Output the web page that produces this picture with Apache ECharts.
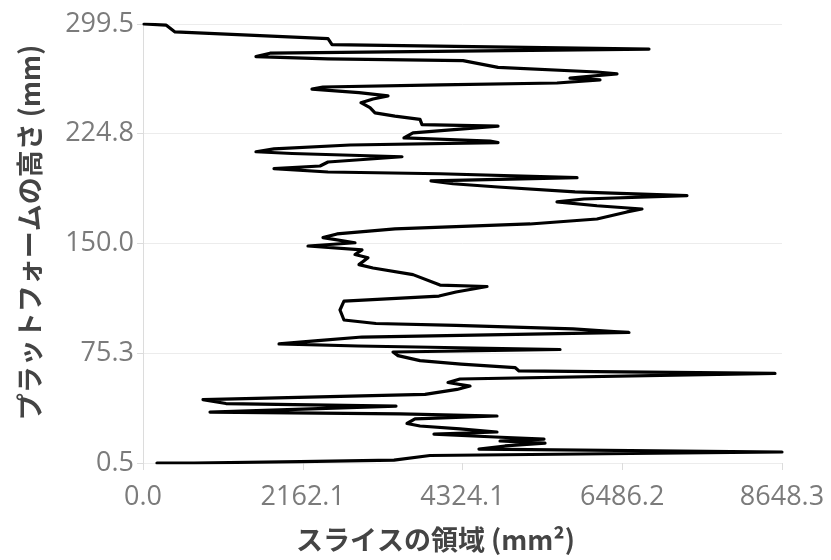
<!DOCTYPE html>
<html>
<head>
<meta charset="utf-8">
<script src="https://cdn.jsdelivr.net/npm/echarts@6/dist/echarts.min.js"></script>
<style>
  html, body { margin: 0; padding: 0; background: #ffffff; }
  #chart { width: 831px; height: 560px; }
</style>
</head>
<body>
<div id="chart"></div>
<script>
// Slice area (mm²) at each build height, listed from the platform upward.
const sliceArea = [
  189, 690, 2125, 3397, 3884, 8648, 4547, 4899, 5441, 4832,
  5427, 4764, 3938, 4791, 4290, 3749, 3573, 3681, 4791, 3478,
  907, 3424, 1123, 812, 3817, 4250, 4426, 4128, 4290, 8553,
  5089, 5035, 4304, 3749, 3451, 3384, 5644, 2910, 1841, 2368,
  2964, 6577, 5820, 4236, 3153, 2720, 2666, 2720, 4006, 4236,
  4656, 4020, 3654, 3113, 2923, 3045, 2869, 2964, 2233, 2869,
  2436, 2626, 3410, 5238, 6144, 6550, 6753, 6144, 5603, 5968,
  7362, 5847, 4805, 4196, 3898, 5874, 4020, 2504, 1773, 2396,
  2504, 3505, 2017, 1529, 1773, 2802, 4805, 4696, 3532, 3654,
  4805, 3776, 3749, 3410, 3140, 3072, 2950, 3113, 3316, 2923,
  2287, 2436, 4020, 5603, 6185, 5779, 6415, 6144, 4805, 4331,
  2504, 1529, 1719, 6848, 2558, 2504, 433, 311, 14
];

// Platform height (mm) for each slice above.
const platformHeight = [
  0.5, 0.5, 1.5, 2.5, 5.6, 8.0, 10.0, 12.1, 14.1, 15.5,
  16.8, 18.2, 20.2, 21.6, 23.7, 25.7, 27.4, 30.5, 32.5, 33.9,
  35.2, 39.3, 41.0, 43.7, 47.2, 50.6, 52.9, 55.3, 57.7, 61.5,
  63.2, 65.5, 67.9, 70.2, 73.6, 76.1, 77.8, 80.2, 81.6, 83.9,
  86.3, 89.4, 91.8, 94.2, 95.5, 97.9, 104.7, 110.8, 114.2, 117.0,
  120.7, 121.7, 128.8, 133.3, 135.6, 140.3, 142.5, 145.6, 148.3, 150.5,
  154.0, 156.5, 159.9, 163.3, 166.7, 171.5, 173.5, 175.7, 178.3, 180.3,
  182.6, 185.1, 188.5, 190.7, 192.6, 194.8, 197.5, 198.7, 201.0, 202.8,
  205.5, 209.1, 211.3, 212.5, 214.4, 217.1, 218.7, 219.8, 221.9, 225.3,
  230.0, 231.0, 234.5, 236.8, 239.0, 242.5, 245.9, 248.4, 250.5, 252.8,
  255.1, 256.6, 258.0, 259.3, 261.4, 262.7, 265.5, 266.8, 270.0, 274.6,
  275.7, 277.3, 279.6, 282.4, 285.5, 289.5, 294.1, 298.8, 299.5
];

// Axis tick values.
const areaTicks = [0.0, 2162.1, 4324.1, 6486.2, 8648.3];
const heightTicks = [0.5, 75.3, 150.0, 224.8, 299.5];

const xTitle = 'スライスの領域 (mm²)';
const yTitle = 'プラットフォームの高さ (mm)';

const points = sliceArea.map((a, i) => [a, platformHeight[i]]);

const labelFont = '"Open Sans", "Noto Sans", sans-serif';
const titleFont = '"Noto Sans CJK JP", "Noto Sans", sans-serif';

const chart = echarts.init(document.getElementById('chart'), null, { renderer: 'canvas' });

chart.setOption({
  animation: false,
  backgroundColor: '#ffffff',
  grid: { left: 143, right: 49, top: 24, bottom: 97, containLabel: false },
  xAxis: {
    type: 'value',
    min: areaTicks[0],
    max: areaTicks[areaTicks.length - 1],
    name: xTitle,
    nameLocation: 'middle',
    nameGap: 63,
    nameTextStyle: {
      fontFamily: titleFont, fontSize: 27, fontWeight: 'bold', color: '#444444',
      padding: [0, 54, 0, 0]
    },
    axisLine: { show: false },
    axisTick: { show: true, length: 7, customValues: areaTicks, lineStyle: { color: '#dcdcdc' } },
    axisLabel: {
      customValues: areaTicks,
      formatter: v => v.toFixed(1),
      fontFamily: labelFont, fontSize: 27, color: '#7b7b7b', margin: 21
    },
    splitLine: { show: false }
  },
  yAxis: {
    type: 'value',
    min: heightTicks[0],
    max: heightTicks[heightTicks.length - 1],
    name: yTitle,
    nameLocation: 'middle',
    nameGap: 100,
    nameTextStyle: {
      fontFamily: titleFont, fontSize: 27, fontWeight: 'bold', color: '#444444',
      padding: [0, 0, 0, 22]
    },
    axisLine: { show: true, lineStyle: { color: '#dcdcdc', width: 1 } },
    axisTick: { show: true, length: 6, customValues: heightTicks, lineStyle: { color: '#dcdcdc' } },
    axisLabel: {
      customValues: heightTicks,
      formatter: v => v.toFixed(1),
      fontFamily: labelFont, fontSize: 27, color: '#7b7b7b', margin: 9
    },
    splitLine: { show: true, lineStyle: { color: '#ececec', width: 1 } }
  },
  series: [{
    type: 'line',
    data: points,
    showSymbol: false,
    symbol: 'none',
    lineStyle: { color: '#000000', width: 3.2, join: 'round', cap: 'round' },
    z: 5
  }]
});
</script>
</body>
</html>
